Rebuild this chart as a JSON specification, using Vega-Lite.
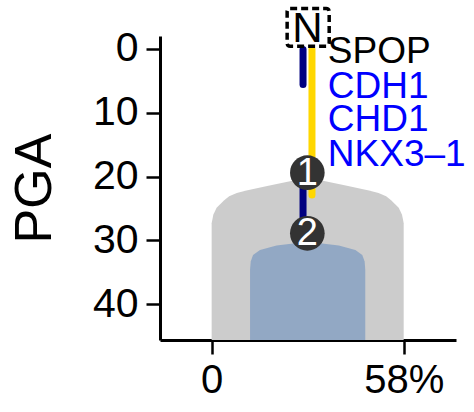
{
  "$schema": "https://vega.github.io/schema/vega-lite/v6.json",
  "width": 296,
  "height": 304,
  "autosize": {"type": "none"},
  "padding": {"left": 160, "top": 36, "right": 18, "bottom": 72},
  "config": {
    "view": {"stroke": null},
    "font": "Liberation Sans",
    "axis": {"grid": false, "domainColor": "black", "tickColor": "black", "labelColor": "black", "titleColor": "black", "labelFont": "Liberation Sans", "titleFont": "Liberation Sans", "titleFontWeight": "normal"}
  },
  "resolve": {"scale": {"color": "independent"}},
  "datasets": {
    "gray": [
      {"y": 20.2, "xl": 29, "xr": 29},
      {"y": 20.6, "xl": 25.1, "xr": 32.9},
      {"y": 21.4, "xl": 17.5, "xr": 40.5},
      {"y": 22.2, "xl": 10.5, "xr": 47.5},
      {"y": 22.6, "xl": 7.6, "xr": 50.4},
      {"y": 23.1, "xl": 5.3, "xr": 52.7},
      {"y": 23.7, "xl": 3.8, "xr": 54.2},
      {"y": 24.9, "xl": 1.5, "xr": 56.5},
      {"y": 26.0, "xl": 0.5, "xr": 57.5},
      {"y": 27.3, "xl": 0, "xr": 58},
      {"y": 45.6, "xl": 0, "xr": 58}
    ],
    "blue": [
      {"y": 30.2, "xl": 29, "xr": 29},
      {"y": 30.8, "xl": 19.6, "xr": 38.4},
      {"y": 31.5, "xl": 14.6, "xr": 43.4},
      {"y": 32.3, "xl": 12.5, "xr": 45.5},
      {"y": 33.3, "xl": 11.8, "xr": 46.2},
      {"y": 34.6, "xl": 11.6, "xr": 46.4},
      {"y": 45.6, "xl": 11.6, "xr": 46.4}
    ],
    "lines": [
      {"x": 27.6, "y1": 0.1, "y2": 5.6, "c": "navy"},
      {"x": 30.3, "y1": 0.1, "y2": 22.9, "c": "gold"},
      {"x": 27.6, "y1": 19.4, "y2": 28.9, "c": "navy"}
    ],
    "circles": [
      {"x": 28.9, "y": 19.4, "n": "1"},
      {"x": 28.9, "y": 28.9, "n": "2"}
    ],
    "labels": [
      {"x": 35.1, "y": 0.5, "g": "SPOP", "c": "black"},
      {"x": 35.1, "y": 6.0, "g": "CDH1", "c": "blue"},
      {"x": 35.1, "y": 11.1, "g": "CHD1", "c": "blue"},
      {"x": 35.1, "y": 16.6, "g": "NKX3–1", "c": "blue"}
    ],
    "box": [
      {"x": 28.9, "y": -3.2, "x1": 22.8, "x2": 35.5, "y1": -6.3, "y2": -0.4, "t": "N"}
    ]
  },
  "encoding": {
    "y": {"type": "quantitative", "scale": {"domain": [-2, 45.6], "reverse": true, "nice": false, "zero": false}},
    "x": {"type": "quantitative", "scale": {"domain": [-15.6, 73.8], "nice": false, "zero": false}}
  },
  "layer": [
    {
      "data": {"name": "gray"},
      "mark": {"type": "area", "orient": "horizontal", "color": "#cccccc", "opacity": 1},
      "encoding": {
        "y": {"field": "y", "type": "quantitative", "axis": {"title": "PGA", "values": [0, 10, 20, 30, 40], "labelFontSize": 41, "tickSize": 14, "tickWidth": 2.5, "domainWidth": 3, "labelPadding": 8, "titleFontSize": 52, "titleAngle": -90, "titleX": -110, "titleY": 152, "titleAlign": "center", "titleBaseline": "alphabetic"}},
        "x": {"field": "xl", "type": "quantitative", "axis": {"title": null, "values": [0, 58], "labelExpr": "datum.value == 58 ? '58%' : '0'", "labelFontSize": 40, "tickSize": 14, "tickWidth": 2.5, "domainWidth": 3, "labelPadding": 6}},
        "x2": {"field": "xr"}
      }
    },
    {
      "data": {"name": "blue"},
      "mark": {"type": "area", "orient": "horizontal", "color": "#92a8c4", "opacity": 1},
      "encoding": {
        "y": {"field": "y", "type": "quantitative"},
        "x": {"field": "xl", "type": "quantitative"},
        "x2": {"field": "xr"}
      }
    },
    {
      "data": {"name": "lines"},
      "mark": {"type": "rule", "strokeWidth": 7, "strokeCap": "round"},
      "encoding": {
        "x": {"field": "x", "type": "quantitative"},
        "y": {"field": "y1", "type": "quantitative"},
        "y2": {"field": "y2"},
        "color": {"field": "c", "type": "nominal", "scale": {"domain": ["navy", "gold"], "range": ["#000080", "#ffd700"]}, "legend": null}
      }
    },
    {
      "data": {"name": "circles"},
      "mark": {"type": "point", "shape": "circle", "filled": true, "size": 1200, "color": "#333333", "opacity": 1},
      "encoding": {
        "x": {"field": "x", "type": "quantitative"},
        "y": {"field": "y", "type": "quantitative"}
      }
    },
    {
      "data": {"name": "circles"},
      "mark": {"type": "text", "fontSize": 38, "color": "white", "align": "center", "baseline": "middle", "dy": 1},
      "encoding": {
        "x": {"field": "x", "type": "quantitative"},
        "y": {"field": "y", "type": "quantitative"},
        "text": {"field": "n"}
      }
    },
    {
      "data": {"name": "labels"},
      "mark": {"type": "text", "fontSize": 37, "align": "left", "baseline": "middle"},
      "encoding": {
        "x": {"field": "x", "type": "quantitative"},
        "y": {"field": "y", "type": "quantitative"},
        "text": {"field": "g"},
        "color": {"field": "c", "type": "nominal", "scale": {"domain": ["black", "blue"], "range": ["#000000", "#0000ff"]}, "legend": null}
      }
    },
    {
      "data": {"name": "box"},
      "mark": {"type": "rect", "fill": null, "fillOpacity": 0, "stroke": "black", "strokeWidth": 3.5, "strokeDash": [7, 4], "cornerRadius": 3},
      "encoding": {
        "x": {"field": "x1", "type": "quantitative"},
        "x2": {"field": "x2"},
        "y": {"field": "y1", "type": "quantitative"},
        "y2": {"field": "y2"}
      }
    },
    {
      "data": {"name": "box"},
      "mark": {"type": "text", "fontSize": 42, "color": "black", "align": "center", "baseline": "middle", "dy": 1},
      "encoding": {
        "x": {"field": "x", "type": "quantitative"},
        "y": {"field": "y", "type": "quantitative"},
        "text": {"field": "t"}
      }
    }
  ]
}
